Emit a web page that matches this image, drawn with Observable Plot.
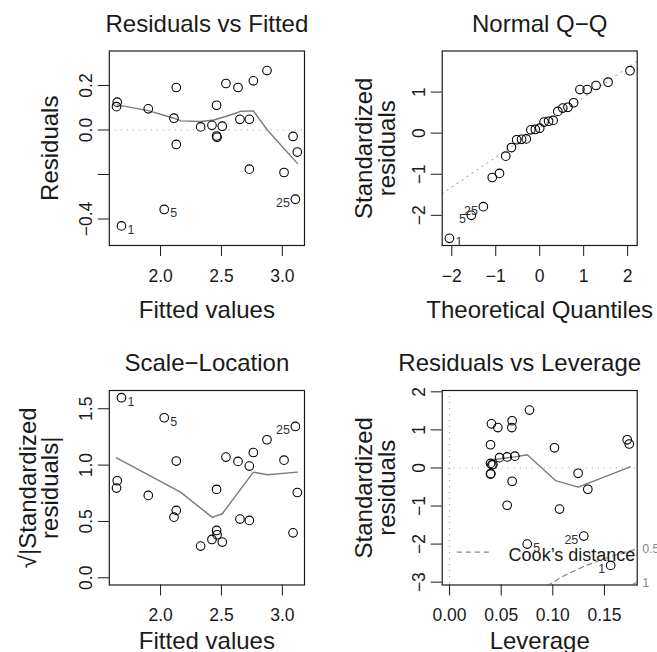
<!DOCTYPE html>
<html><head><meta charset="utf-8">
<script src="https://cdn.jsdelivr.net/npm/d3@7"></script>
<script src="https://cdn.jsdelivr.net/npm/@observablehq/plot@0.6"></script>
<style>
html,body{margin:0;padding:0;background:#fff;}
#wrap{position:relative;width:657px;height:652px;overflow:hidden;background:#fff;}
#wrap svg{position:absolute;overflow:visible;}
</style></head><body><div id="wrap"></div>
<script>
// ---------- Panel 1: Residuals vs Fitted ----------
const fitted = [1.679, 1.644, 1.638, 1.899, 2.129, 2.110, 2.129, 2.030, 2.329, 2.422, 2.460, 2.460, 2.464, 2.507, 2.537, 2.636, 2.652, 2.729, 2.729, 2.762, 2.874, 3.014, 3.088, 3.123, 3.107];
const residuals = [-0.431, 0.125, 0.105, 0.095, 0.191, 0.053, -0.065, -0.357, 0.014, 0.021, 0.111, -0.027, -0.033, 0.017, 0.209, 0.191, 0.048, 0.048, -0.176, 0.221, 0.267, -0.191, -0.029, -0.099, -0.311];
const obsIds = ["1", "", "", "", "", "", "", "5", "", "", "", "", "", "", "", "", "", "", "", "", "", "", "", "", "25"];
const smoothFitX = [1.644, 1.899, 2.110, 2.164, 2.329, 2.438, 2.548, 2.658, 2.762, 2.877, 3.123];
const smoothFitY = [0.113, 0.087, 0.053, 0.041, 0.038, 0.045, 0.063, 0.084, 0.086, 0.000, -0.150];

// ---------- Panel 3: Scale-Location ----------
const sqrtAbsStdRes = [1.598, 0.861, 0.796, 0.731, 1.036, 0.538, 0.598, 1.420, 0.281, 0.340, 0.784, 0.420, 0.382, 0.317, 1.071, 1.033, 0.521, 0.509, 0.991, 1.112, 1.225, 1.044, 0.399, 0.757, 1.343];
const smoothSlX = [1.638, 2.164, 2.425, 2.507, 2.762, 2.877, 3.123];
const smoothSlY = [1.065, 0.760, 0.536, 0.568, 0.938, 0.914, 0.938];

// ---------- Panel 2: Normal Q-Q ----------
const theoQ = [-2.054, -1.555, -1.282, -1.080, -0.915, -0.772, -0.643, -0.524, -0.412, -0.305, -0.202, -0.100, 0, 0.100, 0.202, 0.305, 0.412, 0.524, 0.643, 0.772, 0.915, 1.080, 1.282, 1.555, 2.054];
const sampleQ = [-2.56, -2.00, -1.79, -1.08, -0.98, -0.56, -0.35, -0.16, -0.15, -0.14, 0.08, 0.09, 0.12, 0.27, 0.29, 0.31, 0.53, 0.61, 0.63, 0.74, 1.06, 1.06, 1.16, 1.24, 1.52];
const qqIds = ["1", "5", "25"];
const qqLabelSide = ["right", "left", "left"];
const qqIntercept = 0.14, qqSlope = 0.7265;

// ---------- Panel 4: Residuals vs Leverage ----------
const leverage = [0.156, 0.0752, 0.130, 0.1065, 0.0558, 0.1339, 0.0606, 0.0397, 0.0400, 0.1245, 0.0410, 0.0420, 0.0397, 0.0484, 0.0558, 0.0632, 0.1016, 0.0397, 0.174, 0.172, 0.0468, 0.0603, 0.0406, 0.0606, 0.0774];
const stdResLev = [-2.56, -2.00, -1.79, -1.08, -0.98, -0.56, -0.35, -0.16, -0.15, -0.14, 0.08, 0.09, 0.12, 0.27, 0.29, 0.31, 0.53, 0.61, 0.63, 0.74, 1.06, 1.06, 1.16, 1.24, 1.52];
const levIds = ["1", "5", "25"];
const levLabelSide = ["left", "right", "left"];
const smoothLevX = [0.0397, 0.0632, 0.0752, 0.1026, 0.1245, 0.175];
const smoothLevY = [0.21, 0.29, 0.348, -0.331, -0.505, 0.03];
const cookHalfX = [0.0945, 0.11, 0.13, 0.15, 0.17, 0.19];
const cookHalfY = [-3.095, -2.845, -2.587, -2.380, -2.210, -2.065];
const cookOneX = [0.17, 0.19];
const cookOneY = [-3.125, -2.92];
const cookLevels = ["0.5", "1"];
const cookLevelY = [-2.14, -3.02];
const legendLineX = [0.0075, 0.0397];
const legendY = -2.21;
const legendTextX = 0.0572;

// ---------- drawing ----------
const FONT = '"Liberation Sans", Arial, Helvetica, sans-serif';
const INK = "#1a1a1a";
const SMOOTH = "#7a7a7a";
const DOT = "#ababab";
const wrap = document.getElementById("wrap");
const f1 = d3.format(".1f"), f2 = d3.format(".2f"), f0 = d3.format("d");

function frameMarks({title, xlab, ylab, xticks, xfmt, yticks, yfmt, titleDx = 0, xlabDy = 55, ylabDx = -51.5}) {
  return [
    Plot.axisX({ticks: xticks, tickFormat: xfmt, tickSize: 11, tickPadding: 13, fontSize: 17.5, label: null}),
    Plot.axisY({ticks: yticks, tickFormat: yfmt, tickSize: 11, tickPadding: 6, tickRotate: -90, textAnchor: "middle", lineAnchor: "bottom", fontSize: 17.5, label: null}),
    Plot.frame({stroke: INK, strokeWidth: 1.2}),
    Plot.text([title], {text: d => d, frameAnchor: "top", dx: titleDx, dy: -36.5, lineAnchor: "top", fontSize: 24, fill: INK}),
    Plot.text([xlab], {text: d => d, frameAnchor: "bottom", dy: xlabDy, lineAnchor: "top", fontSize: 24, fill: INK}),
    Plot.text([ylab], {text: d => d, frameAnchor: "left", dx: ylabDx, rotate: -90, lineAnchor: "bottom", textAnchor: "middle", fontSize: 24, lineHeight: 0.95, fill: INK})
  ];
}

function panel({left, top, width, height, margin, xDomain, yDomain, marks}) {
  const svg = Plot.plot({
    width, height,
    marginLeft: margin[0], marginRight: margin[1], marginTop: margin[2], marginBottom: margin[3],
    x: {domain: xDomain}, y: {domain: yDomain},
    style: {fontFamily: FONT, background: "transparent", overflow: "visible", color: INK},
    marks
  });
  svg.style.position = "absolute";
  svg.style.left = left + "px";
  svg.style.top = top + "px";
  wrap.appendChild(svg);
}

function idLabels(xs, ys, ids, sides) {
  const rows = ids.map((id, i) => ({x: xs[i], y: ys[i], id, side: sides[i]}));
  return [
    Plot.text(rows.filter(d => d.side === "right"), {x: "x", y: "y", text: "id", dx: 6, dy: 4, textAnchor: "start", fontSize: 12.5, fill: "#333"}),
    Plot.text(rows.filter(d => d.side === "left"), {x: "x", y: "y", text: "id", dx: -5.5, dy: 4, textAnchor: "end", fontSize: 12.5, fill: "#333"})
  ];
}

// Panel 1
{
  const pts = fitted.map((x, i) => ({x, y: residuals[i]}));
  const labIdx = obsIds.map((d, i) => d ? i : -1).filter(i => i >= 0);
  const sm = smoothFitX.map((x, i) => ({x, y: smoothFitY[i]}));
  panel({
    left: 0, top: 0, width: 329, height: 326, margin: [108.8, 25, 50.5, 81],
    xDomain: [1.579, 3.182], yDomain: [-0.519, 0.355],
    marks: [
      Plot.ruleY([0], {stroke: DOT, strokeWidth: 1.1, strokeDasharray: "1.2,4.8"}),
      Plot.line(sm, {x: "x", y: "y", stroke: SMOOTH, strokeWidth: 1.4}),
      Plot.dot(pts, {x: "x", y: "y", r: 4.3, stroke: "#000", fill: "none", strokeWidth: 1.1}),
      ...idLabels(labIdx.map(i => fitted[i]), labIdx.map(i => residuals[i]), labIdx.map(i => obsIds[i]), ["right", "right", "left"]),
      ...frameMarks({title: "Residuals vs Fitted", xlab: "Fitted values", ylab: "Residuals",
        xticks: [2.0, 2.5, 3.0], xfmt: f1, yticks: [-0.4, -0.2, 0, 0.2], yfmt: d => (d === -0.2 ? "" : f1(d))})
    ]
  });
}

// Panel 2
{
  const pts = theoQ.map((x, i) => ({x, y: sampleQ[i]}));
  const dom = [-2.218, 2.218];
  const qline = dom.map(x => ({x, y: qqIntercept + qqSlope * x}));
  panel({
    left: 329, top: 0, width: 328, height: 326, margin: [112.7, 20.3, 50.5, 81],
    xDomain: dom, yDomain: [-2.735, 2.0],
    marks: [
      Plot.line(qline, {x: "x", y: "y", stroke: DOT, strokeWidth: 1.1, strokeDasharray: "1.2,4.8"}),
      Plot.dot(pts, {x: "x", y: "y", r: 4.3, stroke: "#000", fill: "none", strokeWidth: 1.1}),
      ...idLabels(theoQ.slice(0, 3), sampleQ.slice(0, 3), qqIds, qqLabelSide),
      ...frameMarks({title: "Normal Q\u2212Q", xlab: "Theoretical Quantiles", ylab: "Standardized\nresiduals",
        xticks: [-2, -1, 0, 1, 2], xfmt: f0, yticks: [-2, -1, 0, 1], yfmt: f0, ylabDx: -47})
    ]
  });
}

// Panel 3
{
  const pts = fitted.map((x, i) => ({x, y: sqrtAbsStdRes[i]}));
  const labIdx = obsIds.map((d, i) => d ? i : -1).filter(i => i >= 0);
  const sm = smoothSlX.map((x, i) => ({x, y: smoothSlY[i]}));
  panel({
    left: 0, top: 326, width: 329, height: 326, margin: [108.8, 25, 64, 67.5],
    xDomain: [1.579, 3.182], yDomain: [-0.064, 1.662],
    marks: [
      Plot.line(sm, {x: "x", y: "y", stroke: SMOOTH, strokeWidth: 1.4}),
      Plot.dot(pts, {x: "x", y: "y", r: 4.3, stroke: "#000", fill: "none", strokeWidth: 1.1}),
      ...idLabels(labIdx.map(i => fitted[i]), labIdx.map(i => sqrtAbsStdRes[i]), labIdx.map(i => obsIds[i]), ["right", "right", "left"]),
      ...frameMarks({title: "Scale\u2212Location", xlab: "Fitted values", ylab: "\u221A|Standardized\nresiduals|",
        xticks: [2.0, 2.5, 3.0], xfmt: f1, yticks: [0, 0.5, 1.0, 1.5], yfmt: f1, xlabDy: 47, ylabDx: -51})
    ]
  });
}

// Panel 4
{
  const pts = leverage.map((x, i) => ({x, y: stdResLev[i]}));
  const sm = smoothLevX.map((x, i) => ({x, y: smoothLevY[i]}));
  const c05 = cookHalfX.map((x, i) => ({x, y: cookHalfY[i]}));
  const c1 = cookOneX.map((x, i) => ({x, y: cookOneY[i]}));
  const lvl = cookLevels.map((t, i) => ({t, y: cookLevelY[i]}));
  panel({
    left: 329, top: 326, width: 328, height: 326, margin: [112.7, 20.3, 64, 67.5],
    xDomain: [-0.0071, 0.1817], yDomain: [-3.075, 2.035],
    marks: [
      Plot.ruleY([0], {stroke: DOT, strokeWidth: 1.1, strokeDasharray: "1.2,4.8"}),
      Plot.ruleX([0], {stroke: DOT, strokeWidth: 1.1, strokeDasharray: "1.2,4.8"}),
      Plot.line(c05, {x: "x", y: "y", stroke: "#888", strokeWidth: 1.2, strokeDasharray: "5,4", clip: true}),
      Plot.line(c1, {x: "x", y: "y", stroke: "#888", strokeWidth: 1.2, strokeDasharray: "5,4", clip: true}),
      Plot.text(lvl, {y: "y", text: "t", frameAnchor: "right", dx: 5, textAnchor: "start", fontSize: 12.5, fill: "#888"}),
      Plot.line(sm, {x: "x", y: "y", stroke: SMOOTH, strokeWidth: 1.4}),
      Plot.ruleY([legendY], {x1: legendLineX[0], x2: legendLineX[1], stroke: "#888", strokeWidth: 1.2, strokeDasharray: "5,4"}),
      Plot.text(["Cook\u2019s distance"], {text: d => d, x: legendTextX, y: legendY, dy: 3, textAnchor: "start", fontSize: 18, fill: INK}),
      Plot.dot(pts, {x: "x", y: "y", r: 4.3, stroke: "#000", fill: "none", strokeWidth: 1.1}),
      ...idLabels(leverage.slice(0, 3), stdResLev.slice(0, 3), levIds, levLabelSide),
      ...frameMarks({title: "Residuals vs Leverage", xlab: "Leverage", ylab: "Standardized\nresiduals",
        xticks: [0, 0.05, 0.10, 0.15], xfmt: f2, yticks: [-3, -2, -1, 0, 1, 2], yfmt: f0,
        titleDx: -20, xlabDy: 47, ylabDx: -47})
    ]
  });
}
</script>
</body></html>
